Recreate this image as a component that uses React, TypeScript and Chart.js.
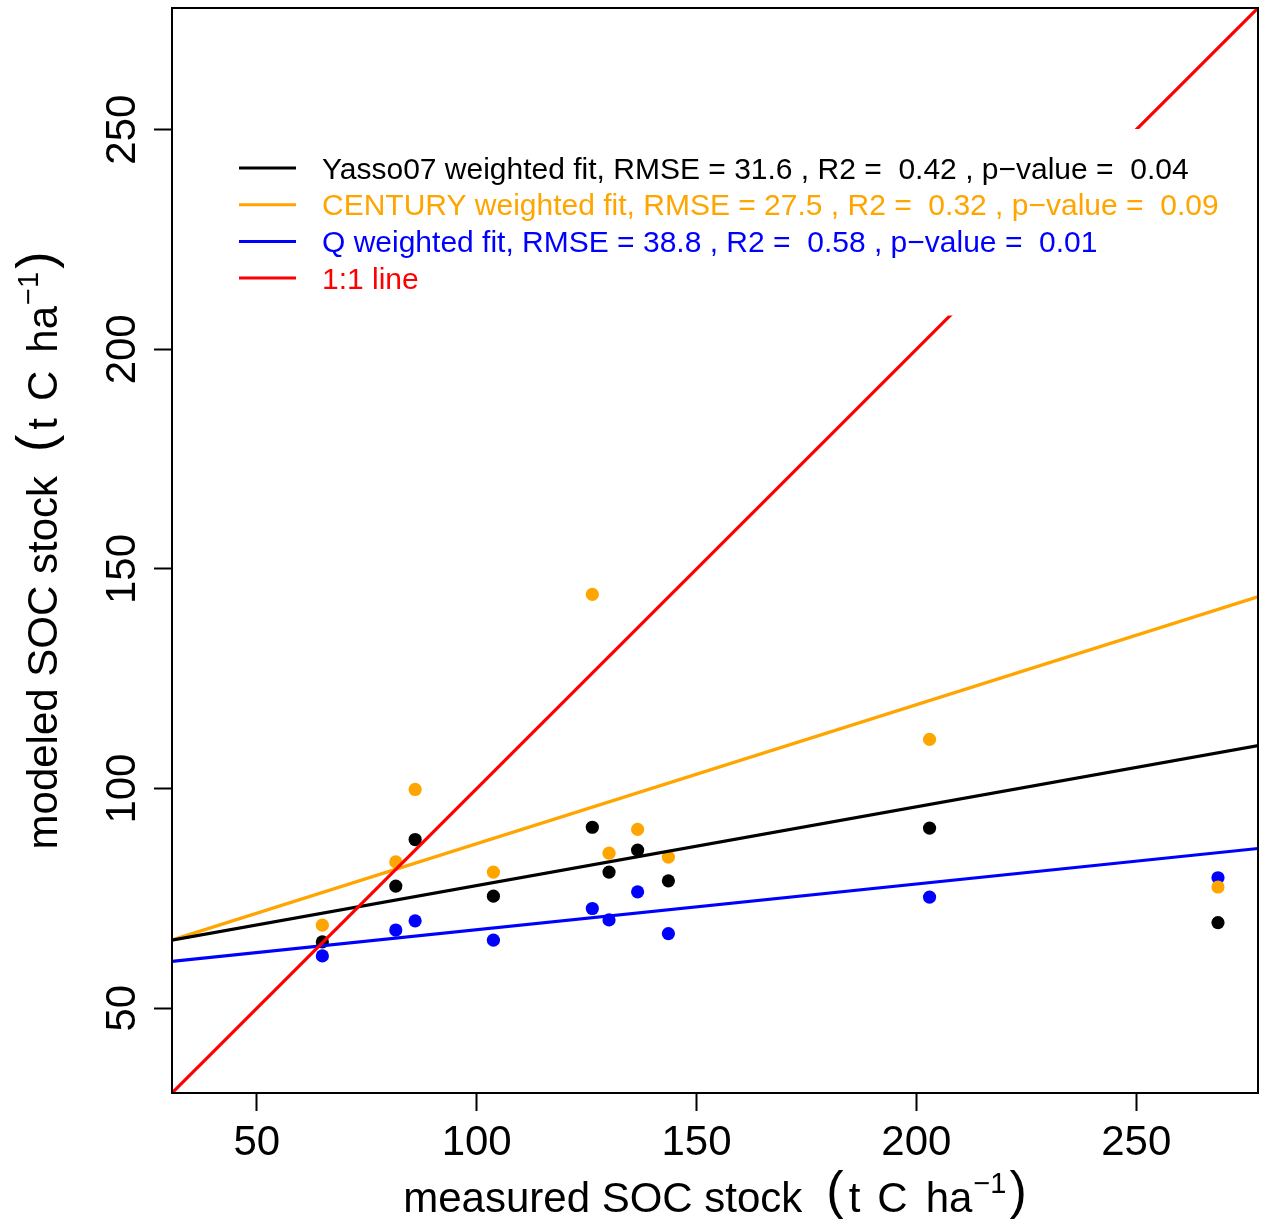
import React, { useEffect, useRef } from 'react';
import { Chart, registerables } from 'chart.js';

Chart.register(...registerables);

// ---- data ----
const measured = [64.9, 81.6, 86.0, 103.8, 126.3, 130.1, 136.6, 143.6, 203.0, 268.6];
const yassoModeled = [65.1, 77.8, 88.4, 75.5, 91.2, 81.0, 86.0, 79.0, 91.0, 69.5];
const centuryModeled = [68.9, 83.3, 99.8, 81.0, 144.2, 85.3, 90.7, 84.4, 111.2, 77.6];
const qModeled = [61.9, 67.8, 69.9, 65.5, 72.7, 70.1, 76.5, 67.0, 75.3, 79.7];

// fitted lines (end points at x = 30 and x = 280)
const fitX = [30, 280];
const yassoFit = [65.4, 110.2];
const centuryFit = [65.3, 144.4];
const qFit = [60.6, 86.6];
const oneToOne = [30, 280];

const tickValues = [50, 100, 150, 200, 250];
const axisMin = 30.7;
const axisMax = 277.7;

const legendLabels = [
  'Yasso07 weighted fit, RMSE = 31.6 , R2 =  0.42 , p\u2212value =  0.04',
  'CENTURY weighted fit, RMSE = 27.5 , R2 =  0.32 , p\u2212value =  0.09',
  'Q weighted fit, RMSE = 38.8 , R2 =  0.58 , p\u2212value =  0.01',
  '1:1 line',
];
const seriesColors = ['#000000', '#FFA500', '#0000FF', '#FF0000'];

const xTitleMain = 'measured SOC stock';
const yTitleMain = 'modeled SOC stock';
const unitParts = ['t', 'C', 'ha'];
const unitExp = '\u22121';

const FONT = '"Liberation Sans", Arial, Helvetica, sans-serif';

function drawTitle(ctx: CanvasRenderingContext2D, main: string) {
  // pieces: [text, fontSize, gapBefore, rise]
  const pieces: [string, number, number, number][] = [
    [main, 42, 0, 0],
    ['(', 52, 24, 4],
    [unitParts[0], 42, 5, 0],
    [unitParts[1], 42, 17, 0],
    [unitParts[2], 42, 18, 0],
    [unitExp, 29, 1, 19],
    [')', 52, 3, 4],
  ];
  let total = 0;
  const widths: number[] = [];
  for (const [t, s, g] of pieces) {
    ctx.font = `${s}px ${FONT}`;
    const w = ctx.measureText(t).width;
    widths.push(w);
    total += g + w;
  }
  let x = -total / 2;
  ctx.textAlign = 'left';
  ctx.textBaseline = 'alphabetic';
  pieces.forEach(([t, s, g, r], i) => {
    x += g;
    ctx.font = `${s}px ${FONT}`;
    ctx.fillText(t, x, -r);
    x += widths[i];
  });
}

const rPlotPlugin = {
  id: 'rPlot',
  afterDatasetsDraw(chart: any) {
    const { ctx, chartArea } = chart;
    const xs = chart.scales.x;
    const ys = chart.scales.y;
    ctx.save();
    // box
    ctx.strokeStyle = '#000';
    ctx.lineWidth = 2;
    ctx.strokeRect(chartArea.left, chartArea.top, chartArea.right - chartArea.left, chartArea.bottom - chartArea.top);

    // legend with white background
    const lx = chartArea.left + 48;
    const ly = chartArea.top + 121;
    const rowH = 36.7;
    ctx.fillStyle = '#FFFFFF';
    ctx.fillRect(lx, ly, 1020, rowH * 5 + 3);
    legendLabels.forEach((lab, i) => {
      const yy = ly + 39 + i * rowH;
      ctx.strokeStyle = seriesColors[i];
      ctx.lineWidth = 3;
      ctx.beginPath();
      ctx.moveTo(lx + 19, yy);
      ctx.lineTo(lx + 76, yy);
      ctx.stroke();
      ctx.fillStyle = seriesColors[i];
      ctx.font = `30px ${FONT}`;
      ctx.textAlign = 'left';
      ctx.textBaseline = 'alphabetic';
      ctx.fillText(lab, lx + 102, yy + 10.5);
    });

    // tick labels
    ctx.fillStyle = '#000';
    ctx.font = `42px ${FONT}`;
    ctx.textAlign = 'center';
    ctx.textBaseline = 'alphabetic';
    tickValues.forEach((v) => {
      const px = xs.getPixelForValue(v);
      ctx.fillText(String(v), px, chartArea.bottom + 62);
    });
    tickValues.forEach((v) => {
      const py = ys.getPixelForValue(v);
      ctx.save();
      ctx.translate(chartArea.left - 37, py);
      ctx.rotate(-Math.PI / 2);
      ctx.fillText(String(v), 0, 0);
      ctx.restore();
    });

    // axis titles
    ctx.save();
    ctx.translate((chartArea.left + chartArea.right) / 2, chartArea.bottom + 119);
    drawTitle(ctx, xTitleMain);
    ctx.restore();
    ctx.save();
    ctx.translate(chartArea.left - 115, (chartArea.top + chartArea.bottom) / 2);
    ctx.rotate(-Math.PI / 2);
    drawTitle(ctx, yTitleMain);
    ctx.restore();

    ctx.restore();
  },
};

function toPoints(xv: number[], yv: number[]) {
  return xv.map((x, i) => ({ x, y: yv[i] }));
}

export default function App() {
  const ref = useRef<HTMLCanvasElement>(null);
  useEffect(() => {
    if (!ref.current) return;
    const lineDs = (ys: number[], color: string, order: number) => ({
      data: toPoints(fitX, ys),
      showLine: true,
      borderColor: color,
      backgroundColor: color,
      borderWidth: 3.2,
      pointRadius: 0,
      order,
    });
    const pointDs = (ys: number[], color: string, order: number) => ({
      data: toPoints(measured, ys),
      showLine: false,
      backgroundColor: color,
      borderColor: color,
      borderWidth: 0,
      pointRadius: 6.6,
      order,
    });
    const scaleOpts = (isX: boolean) => ({
      type: 'linear' as const,
      min: axisMin,
      max: axisMax,
      afterBuildTicks: (s: any) => {
        s.ticks = tickValues.map((v) => ({ value: v }));
      },
      afterFit: (s: any) => {
        if (isX) s.height = 128;
        else s.width = 172;
        s.paddingLeft = 0;
        s.paddingRight = 0;
        s.paddingTop = 0;
        s.paddingBottom = 0;
      },
      ticks: { display: false },
      grid: {
        display: true,
        drawOnChartArea: false,
        drawTicks: true,
        tickLength: 18,
        tickWidth: 2,
        color: '#000',
      },
      border: { display: false },
    });
    const chart = new Chart(ref.current, {
      type: 'scatter',
      data: {
        datasets: [
          lineDs(oneToOne, seriesColors[3], 0) as any,
          lineDs(yassoFit, seriesColors[0], 1) as any,
          lineDs(centuryFit, seriesColors[1], 1) as any,
          lineDs(qFit, seriesColors[2], 1) as any,
          pointDs(centuryModeled, seriesColors[1], 2) as any,
          pointDs(qModeled, seriesColors[2], 3) as any,
          pointDs(yassoModeled, seriesColors[0], 4) as any,
        ],
      },
      options: {
        animation: false,
        responsive: false,
        events: [],
        layout: { autoPadding: false, padding: { left: 0, right: 3, top: 8, bottom: 0 } },
        plugins: { legend: { display: false }, tooltip: { enabled: false } },
        scales: { x: scaleOpts(true) as any, y: scaleOpts(false) as any },
      },
      plugins: [rPlotPlugin],
    });
    return () => chart.destroy();
  }, []);
  return (
    <div style={{ position: 'fixed', left: 0, top: 0, width: 1261, height: 1221, background: '#fff' }}>
      <canvas ref={ref} width={1261} height={1221} style={{ display: 'block', width: 1261, height: 1221 }} />
    </div>
  );
}
